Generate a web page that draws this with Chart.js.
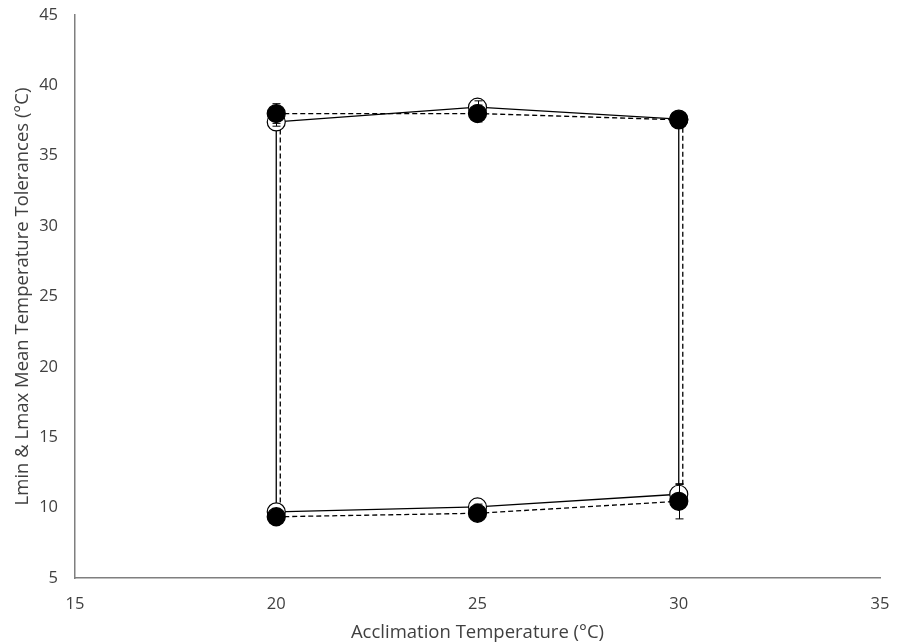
<!DOCTYPE html>
<html>
<head>
<meta charset="utf-8">
<script src="https://cdn.jsdelivr.net/npm/chart.js@4"></script>
<style>
  html, body { margin: 0; padding: 0; background: #ffffff; }
  #wrap { width: 902px; height: 644px; }
</style>
</head>
<body>
<div id="wrap"><canvas id="c" width="902" height="644"></canvas></div>
<script>
// ---- data ----
const acclimTemps = [20, 25, 30];
const xTickValues = [15, 20, 25, 30, 35];
const yTickValues = [5, 10, 15, 20, 25, 30, 35, 40, 45];

// open circles, solid line
const lmaxOpen = [37.4, 38.45, 37.6];
const lmaxOpenErr = [0.3, 0.45, 0.3];
const lminOpen = [9.7, 10.05, 10.95];
const lminOpenErr = [0.2, 0.2, 0.7];

// filled circles, dashed line
const lmaxFilled = [38.0, 38.0, 37.55];
const lmaxFilledErr = [0.7, 0.6, 0.4];
const lminFilled = [9.35, 9.6, 10.45];
const lminFilledErr = [0.2, 0.2, 1.25];

// dashed vertical connectors sit slightly right of the markers
const dashedConnectorX = [20.1, 30.1];

function pts(xs, ys) { return xs.map((x, i) => ({ x: x, y: ys[i] })); }

const FONT = "'Open Sans', 'Liberation Sans', sans-serif";
const TXT = '#404040';

const errorBarPlugin = {
  id: 'errorBars',
  afterDatasetsDraw(chart) {
    const ctx = chart.ctx;
    const xs = chart.scales.x, ys = chart.scales.y;
    const sets = [
      [lmaxOpen, lmaxOpenErr], [lminOpen, lminOpenErr],
      [lmaxFilled, lmaxFilledErr], [lminFilled, lminFilledErr]
    ];
    ctx.save();
    ctx.strokeStyle = '#000';
    ctx.lineWidth = 1;
    sets.forEach(([vals, errs]) => {
      vals.forEach((v, i) => {
        const px = Math.round(xs.getPixelForValue(acclimTemps[i])) + 0.5;
        const yt = ys.getPixelForValue(v + errs[i]);
        const yb = ys.getPixelForValue(v - errs[i]);
        ctx.beginPath();
        ctx.moveTo(px, yt); ctx.lineTo(px, yb);
        ctx.moveTo(px - 4, yt); ctx.lineTo(px + 4, yt);
        ctx.moveTo(px - 4, yb); ctx.lineTo(px + 4, yb);
        ctx.stroke();
      });
    });
    ctx.restore();
  }
};

const solidLine = { showLine: true, borderColor: '#000', borderWidth: 1.3, pointRadius: 0, fill: false };
const dashedLine = { showLine: true, borderColor: '#000', borderWidth: 1.3, borderDash: [5, 3], pointRadius: 0, fill: false };
const R = 9;

new Chart(document.getElementById('c'), {
  type: 'scatter',
  data: {
    datasets: [
      Object.assign({}, dashedLine, { label: 'Lmax filled', data: pts(acclimTemps, lmaxFilled), pointRadius: R, pointBackgroundColor: '#000', pointBorderColor: '#000', order: 0 }),
      Object.assign({}, dashedLine, { label: 'Lmin filled', data: pts(acclimTemps, lminFilled), pointRadius: R, pointBackgroundColor: '#000', pointBorderColor: '#000', order: 0 }),
      Object.assign({}, dashedLine, { label: 'dash left', data: [{ x: dashedConnectorX[0], y: lmaxFilled[0] }, { x: dashedConnectorX[0], y: lminFilled[0] }], order: 2 }),
      Object.assign({}, dashedLine, { label: 'dash right', data: [{ x: dashedConnectorX[1], y: lmaxFilled[2] }, { x: dashedConnectorX[1], y: lminFilled[2] }], order: 2 }),
      Object.assign({}, solidLine, { label: 'Lmax open', data: pts(acclimTemps, lmaxOpen), pointRadius: R, pointBackgroundColor: '#fff', pointBorderColor: '#000', pointBorderWidth: 1.2, order: 1 }),
      Object.assign({}, solidLine, { label: 'Lmin open', data: pts(acclimTemps, lminOpen), pointRadius: R, pointBackgroundColor: '#fff', pointBorderColor: '#000', pointBorderWidth: 1.2, order: 1 }),
      Object.assign({}, solidLine, { label: 'solid left', data: [{ x: acclimTemps[0], y: lmaxOpen[0] }, { x: acclimTemps[0], y: lminOpen[0] }], order: 2 }),
      Object.assign({}, solidLine, { label: 'solid right', data: [{ x: acclimTemps[2], y: lmaxOpen[2] }, { x: acclimTemps[2], y: lminOpen[2] }], order: 2 })
    ]
  },
  options: {
    responsive: false,
    animation: false,
    layout: { padding: { top: 15, right: 22, left: 0, bottom: 0 } },
    plugins: { legend: { display: false }, tooltip: { enabled: false } },
    scales: {
      x: {
        type: 'linear', min: 15, max: 35,
        afterBuildTicks: s => { s.ticks = xTickValues.map(v => ({ value: v })); },
        afterFit: s => { s.height = 66; s.paddingLeft = 0; s.paddingRight = 0; },
        grid: { display: false, drawTicks: false },
        border: { display: true, color: '#7f7f7f', width: 1.5 },
        ticks: { color: TXT, font: { family: FONT, size: 16.5 }, padding: 16, maxRotation: 0 },
        title: { display: true, text: 'Acclimation Temperature (°C)', color: TXT, font: { family: FONT, size: 18.5 }, padding: { top: 2, bottom: 0 } }
      },
      y: {
        type: 'linear', min: 5, max: 45,
        afterBuildTicks: s => { s.ticks = yTickValues.map(v => ({ value: v })); },
        afterFit: s => { s.width = 75; s.paddingTop = 0; s.paddingBottom = 0; },
        grid: { display: false, drawTicks: false },
        border: { display: true, color: '#7f7f7f', width: 1.5 },
        ticks: { color: TXT, font: { family: FONT, size: 16.5 }, padding: 17 },
        title: { display: true, text: 'Lmin & Lmax Mean Temperature Tolerances (°C)', color: TXT, font: { family: FONT, size: 18.5 }, padding: { top: 12, bottom: 0 } }
      }
    }
  },
  plugins: [errorBarPlugin]
});
</script>
</body>
</html>
